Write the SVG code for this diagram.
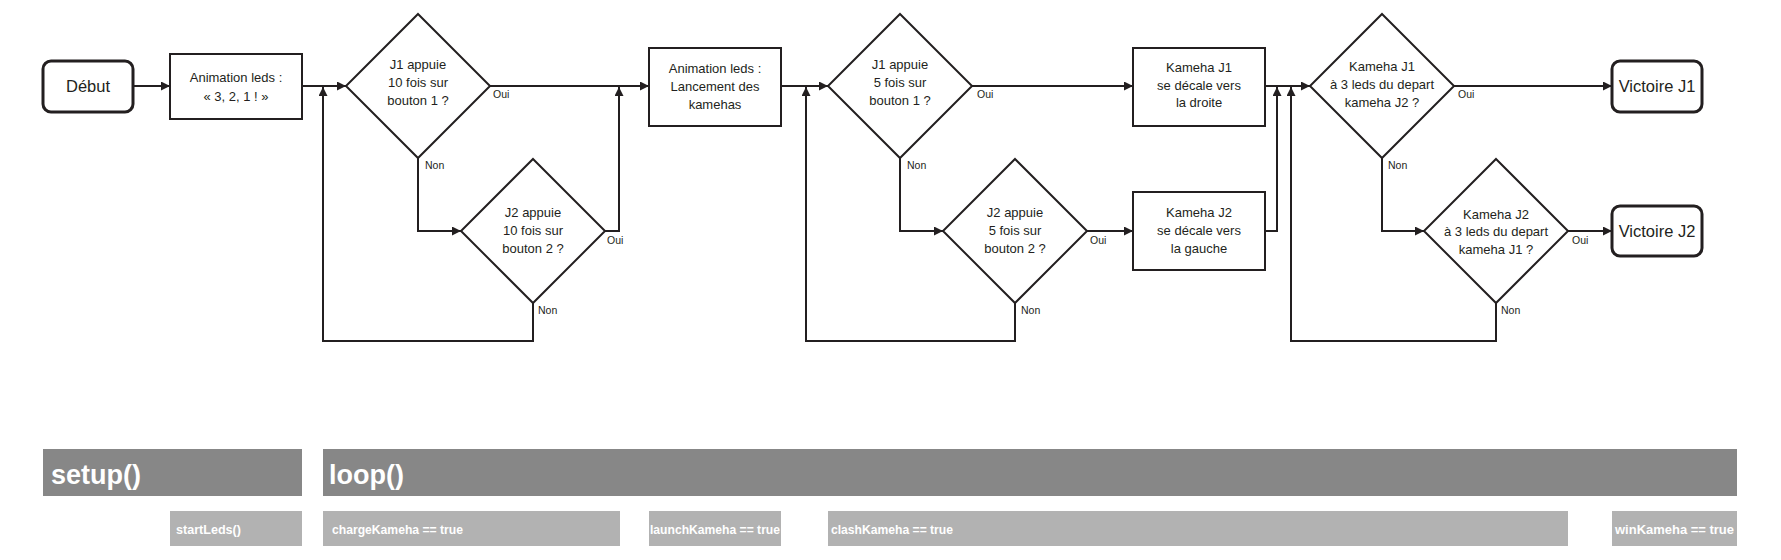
<svg xmlns="http://www.w3.org/2000/svg" width="1781" height="560" viewBox="0 0 1781 560">
<style>
.bg{fill:#ffffff}
.box{fill:#ffffff;stroke:#231f20;stroke-width:2}
.term{fill:#ffffff;stroke:#231f20;stroke-width:3}
.dia{fill:#ffffff;stroke:#231f20;stroke-width:2}
.t{font-family:"Liberation Sans",Arial,sans-serif;font-size:13px;fill:#231f20;text-anchor:middle}
.tt{font-family:"Liberation Sans",Arial,sans-serif;font-size:16.5px;fill:#231f20;text-anchor:middle}
.lab{font-family:"Liberation Sans",Arial,sans-serif;font-size:10.5px;fill:#231f20}
.c{fill:none;stroke:#231f20;stroke-width:2}
.dark{fill:#878787}
.light{fill:#b2b2b2}
.h{font-family:"Liberation Sans",Arial,sans-serif;font-size:27px;font-weight:bold;fill:#ffffff}
.s{font-family:"Liberation Sans",Arial,sans-serif;font-size:12px;font-weight:bold;fill:#ffffff}
</style>
<defs>
<marker id="ah" viewBox="0 0 10 10" refX="10" refY="5" markerWidth="9" markerHeight="9" markerUnits="userSpaceOnUse" orient="auto">
<path d="M0,0 L10,5 L0,10 z" fill="#231f20"/>
</marker>
</defs>
<rect class="bg" x="0" y="0" width="1781" height="560"/>

<g id="connectors">
<line class="c" x1="133" y1="86" x2="170" y2="86" marker-end="url(#ah)"/>
<line class="c" x1="302" y1="86" x2="346" y2="86" marker-end="url(#ah)"/>
<polyline class="c" points="533,303 533,341 323,341 323,87" marker-end="url(#ah)"/>
<polyline class="c" points="418,158 418,231 461,231" marker-end="url(#ah)"/>
<line class="c" x1="490" y1="86" x2="649" y2="86" marker-end="url(#ah)"/>
<polyline class="c" points="605,231 619,231 619,87" marker-end="url(#ah)"/>
<line class="c" x1="781" y1="86" x2="828" y2="86" marker-end="url(#ah)"/>
<polyline class="c" points="1015,303 1015,341 806,341 806,87" marker-end="url(#ah)"/>
<polyline class="c" points="900,158 900,231 943,231" marker-end="url(#ah)"/>
<line class="c" x1="972" y1="86" x2="1133" y2="86" marker-end="url(#ah)"/>
<line class="c" x1="1087" y1="231" x2="1133" y2="231" marker-end="url(#ah)"/>
<line class="c" x1="1265" y1="86" x2="1310" y2="86" marker-end="url(#ah)"/>
<polyline class="c" points="1265,231 1277,231 1277,87" marker-end="url(#ah)"/>
<polyline class="c" points="1496,303 1496,341 1291,341 1291,87" marker-end="url(#ah)"/>
<line class="c" x1="1454" y1="86" x2="1612" y2="86" marker-end="url(#ah)"/>
<polyline class="c" points="1382,158 1382,231 1424,231" marker-end="url(#ah)"/>
<line class="c" x1="1568" y1="231" x2="1612" y2="231" marker-end="url(#ah)"/>
<text class="lab" x="493" y="98">Oui</text>
<text class="lab" x="425" y="169">Non</text>
<text class="lab" x="607" y="244">Oui</text>
<text class="lab" x="538" y="314">Non</text>
<text class="lab" x="977" y="98">Oui</text>
<text class="lab" x="907" y="169">Non</text>
<text class="lab" x="1090" y="244">Oui</text>
<text class="lab" x="1021" y="314">Non</text>
<text class="lab" x="1458" y="98">Oui</text>
<text class="lab" x="1388" y="169">Non</text>
<text class="lab" x="1572" y="244">Oui</text>
<text class="lab" x="1501" y="314">Non</text>
</g>

<g id="debut">
<rect class="term" x="43" y="61" width="90" height="51" rx="8"/>
<text class="tt" x="88" y="92">Début</text>
</g>
<g id="anim1">
<rect class="box" x="170" y="54" width="132" height="65"/>
<text class="t" x="236" y="82">Animation leds :</text>
<text class="t" x="236" y="101">« 3, 2, 1 ! »</text>
</g>
<g id="d1">
<polygon class="dia" points="418,14 490,86 418,158 346,86"/>
<text class="t" x="418" y="69">J1 appuie</text>
<text class="t" x="418" y="87">10 fois sur</text>
<text class="t" x="418" y="105">bouton 1 ?</text>
</g>
<g id="d2">
<polygon class="dia" points="533,159 605,231 533,303 461,231"/>
<text class="t" x="533" y="217">J2 appuie</text>
<text class="t" x="533" y="235">10 fois sur</text>
<text class="t" x="533" y="253">bouton 2 ?</text>
</g>
<g id="anim2">
<rect class="box" x="649" y="48" width="132" height="78"/>
<text class="t" x="715" y="73">Animation leds :</text>
<text class="t" x="715" y="91">Lancement des</text>
<text class="t" x="715" y="109">kamehas</text>
</g>
<g id="d3">
<polygon class="dia" points="900,14 972,86 900,158 828,86"/>
<text class="t" x="900" y="69">J1 appuie</text>
<text class="t" x="900" y="87">5 fois sur</text>
<text class="t" x="900" y="105">bouton 1 ?</text>
</g>
<g id="d4">
<polygon class="dia" points="1015,159 1087,231 1015,303 943,231"/>
<text class="t" x="1015" y="217">J2 appuie</text>
<text class="t" x="1015" y="235">5 fois sur</text>
<text class="t" x="1015" y="253">bouton 2 ?</text>
</g>
<g id="k1">
<rect class="box" x="1133" y="48" width="132" height="78"/>
<text class="t" x="1199" y="72">Kameha J1</text>
<text class="t" x="1199" y="90">se décale vers</text>
<text class="t" x="1199" y="107">la droite</text>
</g>
<g id="k2">
<rect class="box" x="1133" y="192" width="132" height="78"/>
<text class="t" x="1199" y="217">Kameha J2</text>
<text class="t" x="1199" y="235">se décale vers</text>
<text class="t" x="1199" y="253">la gauche</text>
</g>
<g id="d5">
<polygon class="dia" points="1382,14 1454,86 1382,158 1310,86"/>
<text class="t" x="1382" y="71">Kameha J1</text>
<text class="t" x="1382" y="89">à 3 leds du depart</text>
<text class="t" x="1382" y="107">kameha J2 ?</text>
</g>
<g id="d6">
<polygon class="dia" points="1496,159 1568,231 1496,303 1424,231"/>
<text class="t" x="1496" y="219">Kameha J2</text>
<text class="t" x="1496" y="236">à 3 leds du depart</text>
<text class="t" x="1496" y="254">kameha J1 ?</text>
</g>
<g id="v1">
<rect class="term" x="1612" y="61" width="90" height="51" rx="8"/>
<text class="tt" x="1657" y="92">Victoire J1</text>
</g>
<g id="v2">
<rect class="term" x="1612" y="206" width="90" height="50" rx="8"/>
<text class="tt" x="1657" y="237">Victoire J2</text>
</g>

<g id="setup">
<rect class="dark" x="43" y="449" width="259" height="47"/>
<text class="h" x="51" y="484">setup()</text>
</g>
<g id="loop">
<rect class="dark" x="323" y="449" width="1414" height="47"/>
<text class="h" x="329" y="484">loop()</text>
</g>
<g id="startLeds">
<rect class="light" x="170" y="511" width="132" height="35"/>
<text class="s" x="176" y="534" textLength="65" lengthAdjust="spacingAndGlyphs">startLeds()</text>
</g>
<g id="chargeKameha">
<rect class="light" x="323" y="511" width="297" height="35"/>
<text class="s" x="332" y="534" textLength="131" lengthAdjust="spacingAndGlyphs">chargeKameha == true</text>
</g>
<g id="launchKameha">
<rect class="light" x="649" y="511" width="132" height="35"/>
<text class="s" x="650" y="534" textLength="130" lengthAdjust="spacingAndGlyphs">launchKameha == true</text>
</g>
<g id="clashKameha">
<rect class="light" x="828" y="511" width="740" height="35"/>
<text class="s" x="831" y="534" textLength="122" lengthAdjust="spacingAndGlyphs">clashKameha == true</text>
</g>
<g id="winKameha">
<rect class="light" x="1612" y="511" width="125" height="35"/>
<text class="s" x="1615" y="534" textLength="119" lengthAdjust="spacingAndGlyphs">winKameha == true</text>
</g>
</svg>
